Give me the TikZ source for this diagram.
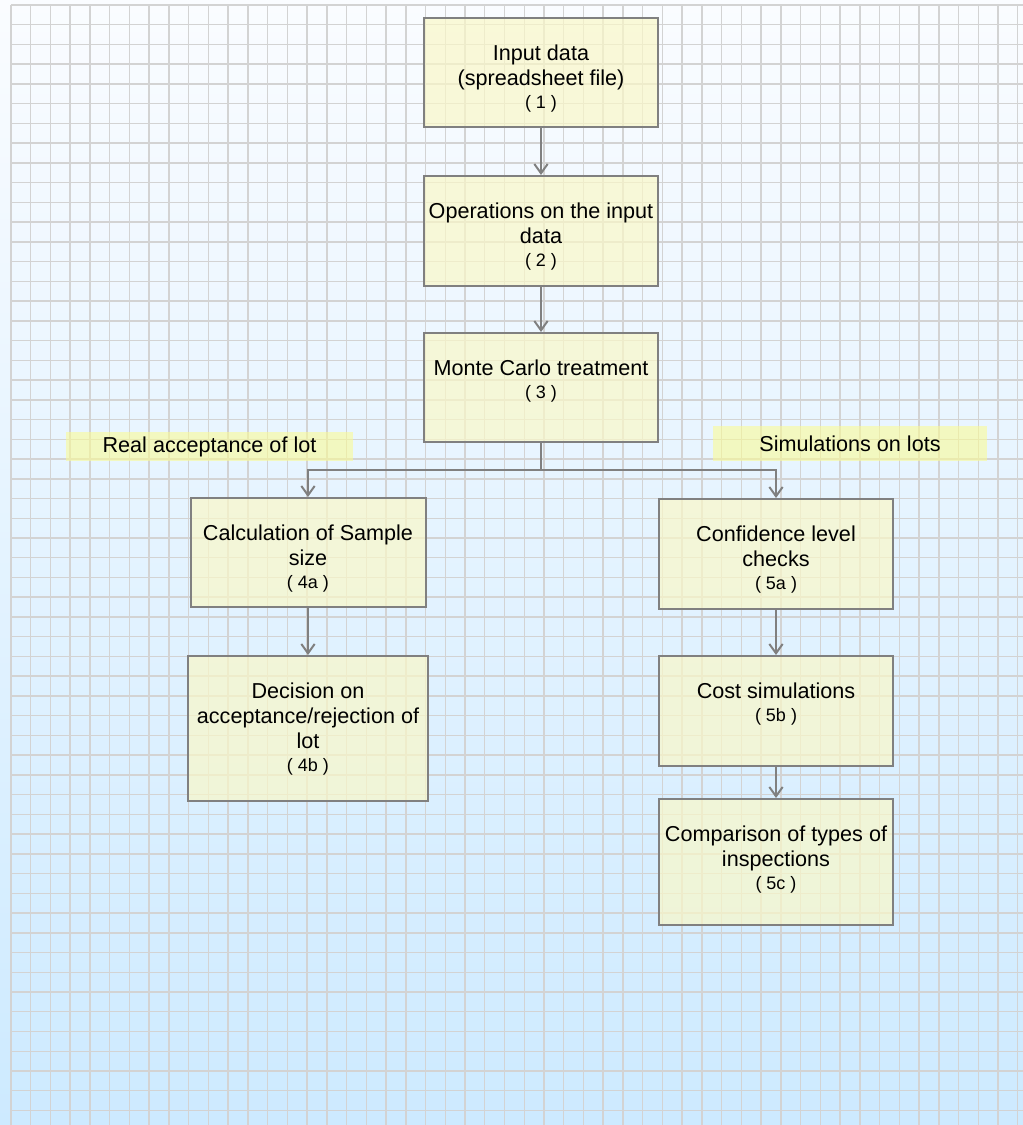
\documentclass[tikz,border=0pt]{standalone}
\usepackage{fontspec}
\setmainfont{Liberation Sans}
\usetikzlibrary{arrows.meta}
\usetikzlibrary{calc}

\definecolor{gridgray}{RGB}{211,211,211}
\definecolor{linegray}{RGB}{128,128,128}
\definecolor{boxfill}{RGB}{250,248,200}
\definecolor{notefill}{RGB}{250,250,150}
\definecolor{skytop}{RGB}{250,252,255}
\definecolor{skybottom}{RGB}{205,234,255}

\newcommand{\boxfont}{\fontsize{16.2pt}{18.75pt}\selectfont}
\newcommand{\stepno}[1]{\\[-1.5pt]{\fontsize{13.5pt}{16pt}\selectfont ( #1 )}}

\tikzset{
	gridline/.style={gridgray, line width=1.1pt},
	flowbox/.style={draw=linegray, line width=1.5pt, fill=boxfill, fill opacity=0.7,
		minimum width=175.5pt, minimum height=81.75pt, inner sep=0pt},
	boxtext/.style={anchor=north, yshift=-20.6pt, align=center, font=\boxfont, inner sep=0pt},
	note/.style={fill=notefill, fill opacity=0.6, text opacity=1, font=\boxfont, inner sep=0pt},
	link/.style={draw=linegray, line width=1.5pt, -{Straight Barb[length=7pt,width=10pt]}},
}

\begin{document}
\begin{tikzpicture}[x=0.75pt, y=-0.75pt]
	\useasboundingbox (0,0) rectangle (1023,1125);
	\shade[top color=skytop, bottom color=skybottom] (0,0) rectangle (1023,1125);

	\begin{scope}
		\clip (0,0) rectangle (1023,1125);
		\foreach \i in {0,...,51}
			\draw[gridline] ({11+19.74*\i},5) -- ({11+19.74*\i},1125);
		\foreach \j in {0,...,56}
			\draw[gridline] (11,{5+19.74*\j}) -- (1023,{5+19.74*\j});
	\end{scope}

	\node[note, minimum width=215.25pt, minimum height=21.75pt] (real) at (209.5,446.5) {Real acceptance of lot};
	\node[note, minimum width=205.5pt, minimum height=26.25pt] (sims) at (850,443.5) {Simulations on lots};

	\node[flowbox, label={[boxtext]north:{Input data\\(spreadsheet file)\stepno{1}}}] (input) at (541,72.5) {};
	\node[flowbox, minimum height=82.5pt, label={[boxtext]north:{Operations on the input\\data\stepno{2}}}] (ops) at (541,231) {};
	\node[flowbox, label={[boxtext]north:{Monte Carlo treatment\stepno{3}}}] (carlo) at (541,387.5) {};

	\node[flowbox, minimum width=176.25pt, label={[boxtext]north:{Calculation of Sample\\size\stepno{4a}}}] (calc) at (308,552.5) {};
	\node[flowbox, minimum width=180pt, minimum height=108.75pt, label={[boxtext]north:{Decision on\\acceptance/rejection of\\lot\stepno{4b}}}] (decide) at (308,728.5) {};

	\node[flowbox, minimum height=82.5pt, label={[boxtext]north:{Confidence level\\checks\stepno{5a}}}] (conf) at (776,554) {};
	\node[flowbox, minimum height=82.5pt, label={[boxtext]north:{Cost simulations\stepno{5b}}}] (cost) at (776,711) {};
	\node[flowbox, minimum height=94.5pt, label={[boxtext]north:{Comparison of types of\\inspections\stepno{5c}}}] (compare) at (776,862) {};

	\draw[link] (input.south) -- (ops.north);
	\draw[link] (ops.south) -- (carlo.north);

	\coordinate (split) at (541,470);
	\draw[linegray, line width=1.5pt] (carlo.south) -- (split);
	\draw[link] (split) -| (calc.north);
	\draw[link] (split) -| (conf.north);

	\draw[link] (calc.south) -- (decide.north);
	\draw[link] (conf.south) -- (cost.north);
	\draw[link] (cost.south) -- (compare.north);

\end{tikzpicture}
\end{document}
